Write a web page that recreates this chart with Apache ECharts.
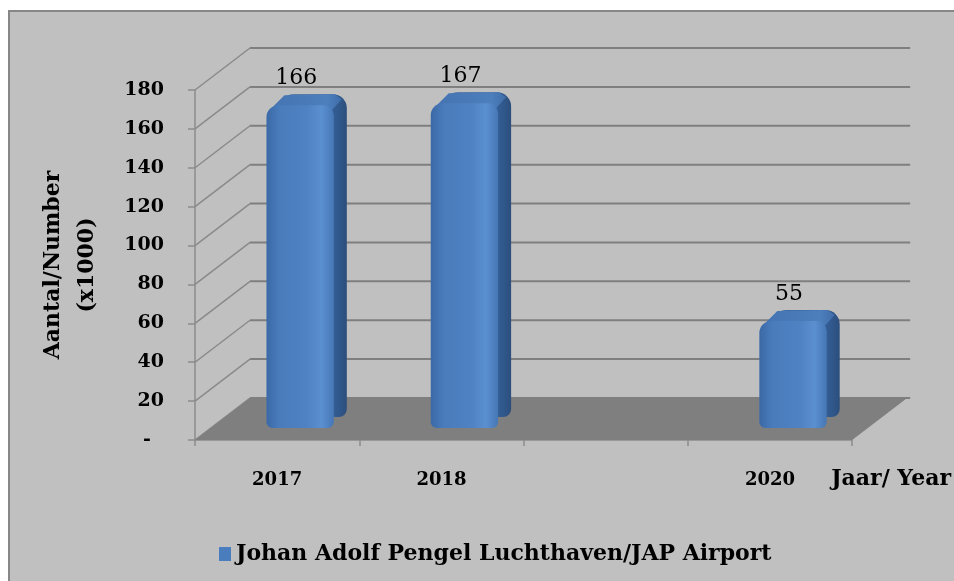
<!DOCTYPE html>
<html>
<head>
<meta charset="utf-8">
<title>JAP Airport</title>
<script src="https://cdn.jsdelivr.net/npm/echarts@6/dist/echarts.min.js"></script>
<style>html,body{margin:0;padding:0;background:#fff;overflow:hidden}#main{width:954px;height:581px}</style>
</head>
<body>
<div id="main"></div>
<script>
var years = ['2017', '2018', '2019', '2020'];
var passengers = [166, 167, null, 55];
var yTicks = [0, 20, 40, 60, 80, 100, 120, 140, 160, 180];
var seriesName = 'Johan Adolf Pengel Luchthaven/JAP Airport';

var DX = 55, DY = -42; // depth of the box (back wall offset)
var FONT = "'DejaVu Serif', serif";

var myChart = echarts.init(document.getElementById('main'));

// left wall diagonals + back wall gridlines
function wallItem(params, api) {
    var cs = params.coordSys;
    var p = api.coord([0, api.value(1)]);
    return {type: 'group', children: [
        {type: 'line', shape: {x1: cs.x, y1: p[1], x2: cs.x + DX, y2: p[1] + DY},
         style: {stroke: '#8a8a8a', lineWidth: 1.5}},
        {type: 'line', shape: {x1: cs.x + DX, y1: p[1] + DY, x2: cs.x + cs.width + DX + 3, y2: p[1] + DY},
         style: {stroke: '#7f7f7f', lineWidth: 2}}
    ]};
}

function floorItem(params, api) {
    var cs = params.coordSys;
    var y0 = api.coord([0, 0])[1];
    return {type: 'polygon', shape: {points: [
        [cs.x, y0], [cs.x + DX, y0 + DY], [cs.x + cs.width + DX, y0 + DY], [cs.x + cs.width, y0]
    ]}, style: {fill: '#7f7f7f'}};
}

function barItem(params, api) {
    var v = api.value(1);
    if (v == null || isNaN(v)) return null;
    var base = api.coord([api.value(0), 0]);
    var top = api.coord([api.value(0), v]);
    var bw = api.size([1, 0])[0];
    var w = bw * 0.41, sx = 23, sy = -12, dx = 13, dy = -11;
    var x0 = base[0] - w / 2 + sx, x1 = x0 + w;
    var yb = base[1] + sy, yt = top[1] + sy;
    return {type: 'group', children: [
        // back copy: shows as the dark right side
        {type: 'rect', shape: {x: x0 + dx, y: yt + dy, width: w, height: yb - yt, r: [14, 14, 8, 8]},
         style: {fill: {type: 'linear', x: 0, y: 0, x2: 1, y2: 0, colorStops: [
             {offset: 0, color: '#3c6aa5'}, {offset: 0.75, color: '#35609a'},
             {offset: 0.9, color: '#30578a'}, {offset: 1, color: '#2b4e7c'}]}}},
        // top face
        {type: 'polygon', shape: {points: [[x0 + 3, yt + 5], [x0 + dx + 5, yt + dy + 1],
            [x1 + dx - 12, yt + dy], [x1 + dx - 5, yt + dy + 5], [x1 - 3, yt + 6]]},
         style: {fill: {type: 'linear', x: 0, y: 0, x2: 1, y2: 0, colorStops: [
             {offset: 0, color: '#4473b0'}, {offset: 0.8, color: '#4d7fbd'}, {offset: 1, color: '#3f6ca8'}]}}},
        // front face
        {type: 'rect', shape: {x: x0, y: yt, width: w, height: yb - yt, r: [12, 10, 6, 6]},
         style: {fill: {type: 'linear', x: 0, y: 0, x2: 1, y2: 0, colorStops: [
             {offset: 0, color: '#3b69a6'}, {offset: 0.2, color: '#4a7cbc'},
             {offset: 0.6, color: '#4f82c2'}, {offset: 0.82, color: '#5a8fd0'},
             {offset: 1, color: '#4677b5'}]}}},
        {type: 'text', style: {text: String(v), x: (x0 + x1) / 2 - 4, y: yt + dy - 5,
         align: 'center', verticalAlign: 'bottom', font: '22px ' + FONT, fill: '#000'}}
    ]};
}

var option = {
    backgroundColor: '#ffffff',
    animation: false,
    graphic: [{type: 'rect', z: -10, shape: {x: 9, y: 11, width: 1000, height: 600},
               style: {fill: '#c0c0c0', stroke: '#878787', lineWidth: 2}}],
    grid: {left: 195, top: 90, width: 661, height: 350},
    legend: {
        data: [seriesName], left: 214, top: 538, icon: 'rect', itemWidth: 12, itemHeight: 14,
        textStyle: {fontFamily: FONT, fontWeight: 'bold', fontSize: 22, color: '#000'}
    },
    xAxis: {
        type: 'category',
        data: years,
        name: 'Jaar/ Year',
        nameLocation: 'end',
        nameGap: -21,
        nameTextStyle: {fontFamily: FONT, fontWeight: 'bold', fontSize: 22, color: '#000',
                        align: 'left', verticalAlign: 'top', padding: [28, 0, 0, 0]},
        axisLine: {lineStyle: {color: '#8c8c8c', width: 1.5}},
        axisTick: {show: true, length: 6, lineStyle: {color: '#8c8c8c', width: 1.5}},
        axisLabel: {
            margin: 31, fontFamily: FONT, fontWeight: 'bold', fontSize: 18, color: '#000',
            formatter: function (val, idx) { return passengers[idx] == null ? '' : val; }
        },
        splitLine: {show: false}
    },
    yAxis: {
        type: 'value', min: 0, max: 180, interval: 20,
        name: 'Aantal/Number\n(x1000)',
        nameLocation: 'middle', nameRotate: 90, nameGap: 91,
        nameTextStyle: {fontFamily: FONT, fontWeight: 'bold', fontSize: 22, color: '#000', lineHeight: 34},
        axisLine: {show: true, lineStyle: {color: '#8c8c8c', width: 1.5}},
        axisTick: {show: true, length: 7, lineStyle: {color: '#8c8c8c', width: 1.5}},
        axisLabel: {
            margin: 31, fontFamily: FONT, fontWeight: 'bold', fontSize: 19, color: '#000',
            formatter: function (v) { return v === 0 ? '-  ' : String(v); }
        },
        splitLine: {show: false}
    },
    series: [
        {type: 'custom', z: 1, silent: true, renderItem: wallItem,
         data: yTicks.map(function (t) { return [0, t]; }), encode: {x: 0, y: 1}},
        {type: 'custom', z: 2, silent: true, renderItem: floorItem,
         data: [[0, 0]], encode: {x: 0, y: 1}},
        {type: 'custom', name: seriesName, z: 3, renderItem: barItem,
         itemStyle: {color: '#4a7dbd'},
         data: passengers.map(function (v, i) { return [i, v]; }), encode: {x: 0, y: 1}}
    ]
};

myChart.setOption(option);
</script>
</body>
</html>
